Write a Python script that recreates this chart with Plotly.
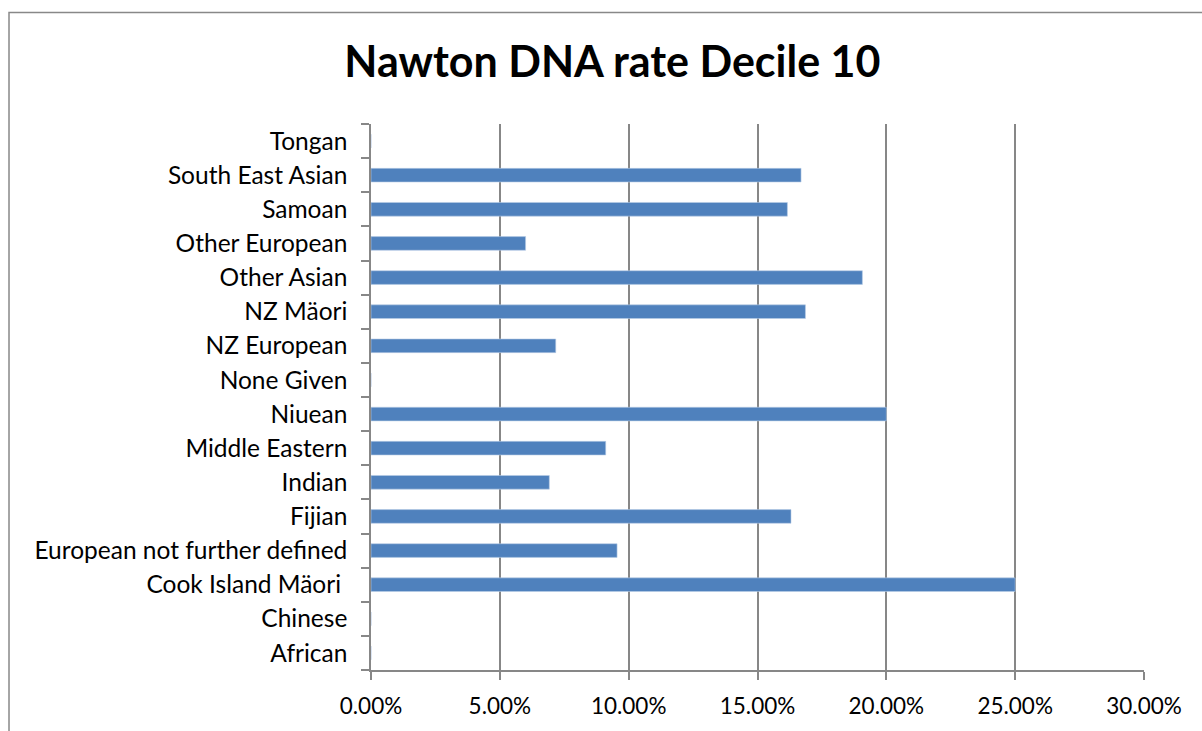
import plotly.graph_objects as go

# Ethnic groups, listed bottom-to-top as they appear on the category axis
categories = [
    "African",
    "Chinese",
    "Cook Island Mäori\u00a0",
    "European not further defined",
    "Fijian",
    "Indian",
    "Middle Eastern",
    "Niuean",
    "None Given",
    "NZ European",
    "NZ Mäori",
    "Other Asian",
    "Other European",
    "Samoan",
    "South East Asian",
    "Tongan",
]

# DNA rate (fraction) per group for Decile 10
dna_rate = [
    0.0,
    0.0,
    0.25,
    0.0955,
    0.163,
    0.0692,
    0.0911,
    0.20,
    0.0,
    0.0717,
    0.1686,
    0.1907,
    0.060,
    0.1616,
    0.1669,
    0.0,
]

x_ticks = [0, 0.05, 0.10, 0.15, 0.20, 0.25, 0.30]

FONT = "Lato"
GRID = "#878787"

fig = go.Figure(
    go.Bar(
        x=dna_rate,
        y=categories,
        orientation="h",
        marker=dict(color="#4F81BD", line=dict(color="#B9CDE5", width=0.6)),
        hoverinfo="x+y",
    )
)

fig.update_layout(
    width=1202,
    height=731,
    margin=dict(l=371, r=58, t=124, b=59),
    paper_bgcolor="white",
    plot_bgcolor="white",
    showlegend=False,
    bargap=0.6,
    font=dict(family=FONT, size=24, color="black"),
    title=dict(
        text="<b>Nawton DNA rate Decile 10</b>",
        font=dict(family=FONT, size=43, color="black"),
        x=0.5095,
        xanchor="center",
        y=0.915,
        yanchor="middle",
    ),
    shapes=[
        # chart frame
        dict(
            type="rect",
            xref="paper",
            yref="paper",
            x0=-0.4683,
            x1=1.2,
            y0=-0.3,
            y1=1.2044,
            line=dict(color="#888888", width=1.5),
            fillcolor="rgba(0,0,0,0)",
            layer="below",
        )
    ],
)

fig.update_xaxes(
    range=[0, 0.30],
    tickvals=x_ticks,
    tickformat=".2%",
    showgrid=True,
    gridcolor=GRID,
    gridwidth=1.5,
    zeroline=False,
    showline=True,
    linecolor=GRID,
    linewidth=1.5,
    ticks="outside",
    ticklen=8,
    tickcolor=GRID,
    tickwidth=1.5,
    ticklabelstandoff=7,
    tickfont=dict(family=FONT, size=22.5, color="black"),
    fixedrange=True,
)

fig.update_yaxes(
    categoryorder="array",
    categoryarray=categories,
    showgrid=False,
    showline=True,
    linecolor=GRID,
    linewidth=1.5,
    ticks="outside",
    tickson="boundaries",
    ticklen=8,
    tickcolor=GRID,
    tickwidth=1.5,
    ticklabelstandoff=17,
    tickfont=dict(family=FONT, size=24.5, color="black"),
    fixedrange=True,
)

fig.write_html("out.html")
